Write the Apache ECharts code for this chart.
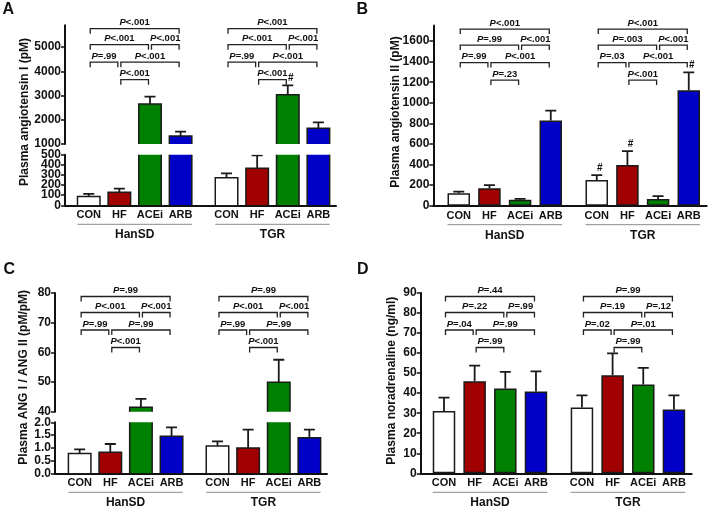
<!DOCTYPE html>
<html>
<head>
<meta charset="utf-8">
<script src="https://cdn.jsdelivr.net/npm/echarts@6/dist/echarts.min.js"></script>
<style>
  html, body { margin: 0; padding: 0; background: #fff; }
  #main { width: 708px; height: 508px; }
</style>
</head>
<body>
<div id="main"></div>
<script>
// groups and treatments
var groups = ['HanSD', 'TGR'];
var categories = ['CON', 'HF', 'ACEi', 'ARB'];
var barColors = ['#ffffff', '#a00000', '#008000', '#0000c8'];

// A: plasma angiotensin I (pM), mean / SEM, HanSD then TGR
var angIMean = [86, 128, 2650, 1330, 273, 365, 3034, 1646];
var angISem = [26, 36, 302, 179, 43, 128, 385, 247];
// B: plasma angiotensin II (pM)
var angIIMean = [120, 170, 57, 828, 250, 395, 65, 1122];
var angIISem = [17, 30, 10, 95, 48, 135, 28, 174];
// C: ANG I / ANG II
var ratioMean = [0.78, 0.83, 41.5, 1.45, 1.07, 0.99, 49.9, 1.39];
var ratioSem = [0.16, 0.32, 2.8, 0.35, 0.18, 0.72, 7.6, 0.32];
// D: plasma noradrenaline (ng/ml)
var naMean = [31.1, 45.9, 42.3, 40.8, 32.8, 48.9, 44.3, 31.8];
var naSem = [6.7, 7.8, 8.3, 10.1, 6.1, 11.0, 8.3, 7.1];

// tick labels
var ticksAUpper = [1000, 2000, 3000, 4000, 5000];
var ticksALower = [0, 100, 200, 300, 400, 500];
var ticksB = [0, 200, 400, 600, 800, 1000, 1200, 1400, 1600];
var ticksCUpper = [40, 50, 60, 70, 80];
var ticksCLower = [0, 0.5, 1, 1.5, 2];
var ticksD = [0, 10, 20, 30, 40, 50, 60, 70, 80, 90];

// '#' marks (vs HanSD)
var hashA = [0, 0, 0, 0, 0, 0, 1, 0];
var hashB = [0, 0, 0, 0, 1, 1, 0, 1];

// comparison brackets: treatment pairs and stacking row
var bracketPairs = [[0, 3], [0, 2], [2, 3], [0, 1], [1, 3], [1, 2]];
var bracketRows = [0, 1, 1, 2, 2, 3];
var pA = [['P<.001', 'P<.001', 'P<.001', 'P=.99', 'P<.001', 'P<.001'],
          ['P<.001', 'P<.001', 'P<.001', 'P=.99', 'P<.001', 'P<.001']];
var pB = [['P<.001', 'P=.99', 'P<.001', 'P=.99', 'P<.001', 'P=.23'],
          ['P<.001', 'P=.003', 'P<.001', 'P=.03', 'P<.001', 'P<.001']];
var pC = [['P=.99', 'P<.001', 'P<.001', 'P=.99', 'P=.99', 'P<.001'],
          ['P=.99', 'P<.001', 'P<.001', 'P=.99', 'P=.99', 'P<.001']];
var pD = [['P=.44', 'P=.22', 'P=.99', 'P=.04', 'P=.99', 'P=.99'],
          ['P=.99', 'P=.19', 'P=.12', 'P=.02', 'P=.01', 'P=.99']];

var FONT = 'Arial, "Liberation Sans", Helvetica, sans-serif';
var INK = '#111';
var BAR_W = 22.5;
var rowOffsets = [3.5, 19.5, 37, 54.5];

// x position of bar i (half-slot units, bigger gap between groups)
function pos(i) { return Math.floor(i / 4) * 9 + (i % 4) * 2; }

var myChart = echarts.init(document.getElementById('main'), null, { renderer: 'canvas' });

function xAx(grid, min, max, show) {
  return {
    type: 'value', gridIndex: grid, min: min, max: max, show: show,
    axisLine: { onZero: false, lineStyle: { color: INK, width: 2 } },
    axisTick: { show: false }, axisLabel: { show: false }, splitLine: { show: false }
  };
}
function yAx(grid, min, max, ticks, fmt, noLine) {
  return {
    type: 'value', gridIndex: grid, min: min, max: max, position: 'left', offset: 0,
    axisLine: { show: !noLine, onZero: false, lineStyle: { color: INK, width: 2 } },
    axisTick: { show: true, length: 4, customValues: ticks, lineStyle: { color: INK, width: 1.5 } },
    axisLabel: { color: INK, fontWeight: 'bold', fontSize: 12, fontFamily: FONT, margin: 4,
      customValues: ticks, showMinLabel: true, showMaxLabel: true, hideOverlap: false,
      formatter: fmt || function (v) { return String(v); } },
    splitLine: { show: false }
  };
}

function barSeries(grid, mean) {
  return {
    type: 'bar', xAxisIndex: grid, yAxisIndex: grid, barWidth: BAR_W, clip: true, silent: true,
    itemStyle: { borderColor: '#1a1a1a', borderWidth: 1.5 },
    data: mean.map(function (v, i) {
      return { value: [pos(i), v], itemStyle: { color: barColors[i % 4] } };
    })
  };
}

// bars for the broken axes: outline open at the bottom so the cut at the break has no edge
function brokenBarSeries(grid, mean) {
  return {
    type: 'custom', xAxisIndex: grid, yAxisIndex: grid, clip: true, silent: true, z: 2,
    data: mean.map(function (v, i) { return [pos(i), v, i % 4]; }),
    renderItem: function (params, api) {
      var b = api.coord([api.value(0), 0]);
      var t = api.coord([api.value(0), api.value(1)]);
      var xl = b[0] - BAR_W / 2, xr = b[0] + BAR_W / 2;
      return { type: 'group', children: [
        { type: 'rect', shape: { x: xl, y: t[1], width: BAR_W, height: b[1] - t[1] },
          style: { fill: barColors[api.value(2)] } },
        { type: 'polyline', shape: { points: [[xl, b[1]], [xl, t[1]], [xr, t[1]], [xr, b[1]]] },
          style: { stroke: '#1a1a1a', lineWidth: 1.5, fill: null } }
      ] };
    }
  };
}

function errSeries(grid, mean, sem) {
  return {
    type: 'custom', xAxisIndex: grid, yAxisIndex: grid, clip: true, silent: true, z: 3,
    data: mean.map(function (v, i) { return [pos(i), v, sem[i]]; }),
    renderItem: function (params, api) {
      var p0 = api.coord([api.value(0), api.value(1)]);
      var p1 = api.coord([api.value(0), api.value(1) + api.value(2)]);
      var st = { stroke: '#1a1a1a', lineWidth: 1.8 };
      return { type: 'group', children: [
        { type: 'line', shape: { x1: p0[0], y1: p0[1], x2: p1[0], y2: p1[1] }, style: st },
        { type: 'line', shape: { x1: p1[0] - 5.5, y1: p1[1], x2: p1[0] + 5.5, y2: p1[1] }, style: st }
      ] };
    }
  };
}

function hashSeries(grid, mean, sem, flags) {
  var d = [];
  flags.forEach(function (f, i) { if (f) d.push([pos(i), mean[i] + sem[i]]); });
  return {
    type: 'custom', xAxisIndex: grid, yAxisIndex: grid, clip: false, silent: true, z: 4,
    data: d,
    renderItem: function (params, api) {
      var p = api.coord([api.value(0), api.value(1)]);
      return { type: 'text', x: p[0] + 3, y: p[1] - 7, style: {
        text: '#', fill: INK, font: 'bold 10px ' + FONT, align: 'center', verticalAlign: 'middle' } };
    }
  };
}

function bracketSeries(grid, pvals) {
  var d = [];
  groups.forEach(function (g, gi) { bracketPairs.forEach(function (bp, k) { d.push([gi, k]); }); });
  return {
    type: 'custom', xAxisIndex: grid, yAxisIndex: grid, clip: false, silent: true, z: 4,
    data: d,
    renderItem: function (params, api) {
      var g = api.value(0), k = api.value(1);
      var a = bracketPairs[k][0], b = bracketPairs[k][1];
      var x1 = api.coord([g * 9 + a * 2, 0])[0] + 1.5;
      var x2 = api.coord([g * 9 + b * 2, 0])[0] - 1.5;
      var y = params.coordSys.y + rowOffsets[bracketRows[k]];
      var txt = pvals[g][k];
      var rs = { fill: INK, fontWeight: 'bold', fontSize: 9.5, fontFamily: FONT };
      return { type: 'group', children: [
        { type: 'polyline', shape: { points: [[x1, y + 5], [x1, y], [x2, y], [x2, y + 5]] },
          style: { stroke: '#222', lineWidth: 1.3, fill: null } },
        { type: 'text', x: (x1 + x2) / 2, y: y - 1, style: {
          text: '{i|P}{n|' + txt.slice(1) + '}', align: 'center', verticalAlign: 'bottom',
          rich: { i: Object.assign({ fontStyle: 'italic' }, rs), n: rs } } }
      ] };
    }
  };
}

function labelSeries(grid) {
  return {
    type: 'custom', xAxisIndex: grid, yAxisIndex: grid, clip: false, silent: true,
    data: groups.map(function (g, gi) { return [gi]; }),
    renderItem: function (params, api) {
      var gi = api.value(0);
      var base = params.coordSys.y + params.coordSys.height;
      var kids = [];
      var xs = categories.map(function (c, ci) { return api.coord([pos(gi * 4 + ci), 0])[0]; });
      categories.forEach(function (c, ci) {
        kids.push({ type: 'text', x: xs[ci], y: base + 10, style: {
          text: c, fill: INK, font: 'bold 11px ' + FONT, align: 'center', verticalAlign: 'middle' } });
      });
      kids.push({ type: 'line', shape: { x1: xs[0] - BAR_W / 2, y1: base + 19, x2: xs[3] + BAR_W / 2, y2: base + 19 },
        style: { stroke: '#8a8a8a', lineWidth: 1 } });
      kids.push({ type: 'text', x: (xs[0] + xs[3]) / 2, y: base + 29.5, style: {
        text: groups[gi], fill: INK, font: 'bold 12px ' + FONT, align: 'center', verticalAlign: 'middle' } });
      return { type: 'group', children: kids };
    }
  };
}

function gText(text, x, y, size, rot) {
  return { type: 'text', x: x, y: y, rotation: rot || 0, silent: true, style: {
    text: text, fill: INK, font: 'bold ' + size + 'px ' + FONT,
    align: rot ? 'center' : 'left', verticalAlign: 'middle',
    textAlign: rot ? 'center' : 'left', textVerticalAlign: 'middle' } };
}

var gridBase = { containLabel: false, outerBoundsMode: 'none' };
var option = {
  animation: false,
  backgroundColor: '#fff',
  grid: [
    Object.assign({ left: 65, top: 25.2, width: 271, height: 118.8 }, gridBase),     // A upper
    Object.assign({ left: 65, top: 154.7, width: 271, height: 50.6 }, gridBase),     // A lower
    Object.assign({ left: 433.3, top: 25.6, width: 273.4, height: 180.1 }, gridBase), // B
    Object.assign({ left: 55, top: 293, width: 272, height: 118.7 }, gridBase),      // C upper
    Object.assign({ left: 55, top: 422.3, width: 272, height: 51 }, gridBase),       // C lower
    Object.assign({ left: 420.7, top: 293, width: 271, height: 180.3 }, gridBase)    // D
  ],
  xAxis: [
    xAx(0, -1.55, 16.15, false),
    xAx(1, -1.55, 16.15, true),
    xAx(2, -1.66, 16.17, true),
    xAx(3, -1.61, 16.15, false),
    xAx(4, -1.61, 16.15, true),
    xAx(5, -1.52, 16.16, true)
  ],
  yAxis: [
    yAx(0, 1000, 5900, ticksAUpper),
    // A lower ticks are 10 px apart: split over two stacked axes so none get dropped
    yAx(1, 0, 500, ticksALower.filter(function (v, i) { return i % 2 === 0; })),
    yAx(2, 0, 1750, ticksB),
    yAx(3, 40, 80, ticksCUpper),
    yAx(4, 0, 2, ticksCLower, function (v) { return v.toFixed(1); }),
    yAx(5, 0, 90, ticksD),
    yAx(1, 0, 500, ticksALower.filter(function (v, i) { return i % 2 === 1; }), null, true)
  ],
  graphic: [
    gText('A', 2.5, 10, 16), gText('B', 356.5, 10, 16),
    gText('C', 3.5, 270, 16), gText('D', 357, 270, 16),
    gText('Plasma angiotensin I (pM)', 25, 112, 12, Math.PI / 2),
    gText('Plasma angiotensin II (pM)', 395.7, 112, 12, Math.PI / 2),
    gText('Plasma ANG I / ANG II (pM/pM)', 24, 377.3, 12, Math.PI / 2),
    gText('Plasma noradrenaline (ng/ml)', 391.3, 380.7, 12, Math.PI / 2)
  ],
  series: [
    brokenBarSeries(0, angIMean), errSeries(0, angIMean, angISem),
    brokenBarSeries(1, angIMean), errSeries(1, angIMean, angISem),
    bracketSeries(0, pA), hashSeries(0, angIMean, angISem, hashA), labelSeries(1),

    barSeries(2, angIIMean), errSeries(2, angIIMean, angIISem),
    bracketSeries(2, pB), hashSeries(2, angIIMean, angIISem, hashB), labelSeries(2),

    brokenBarSeries(3, ratioMean), errSeries(3, ratioMean, ratioSem),
    brokenBarSeries(4, ratioMean), errSeries(4, ratioMean, ratioSem),
    bracketSeries(3, pC), labelSeries(4),

    barSeries(5, naMean), errSeries(5, naMean, naSem),
    bracketSeries(5, pD), labelSeries(5)
  ]
};
myChart.setOption(option, true);
</script>
</body>
</html>
